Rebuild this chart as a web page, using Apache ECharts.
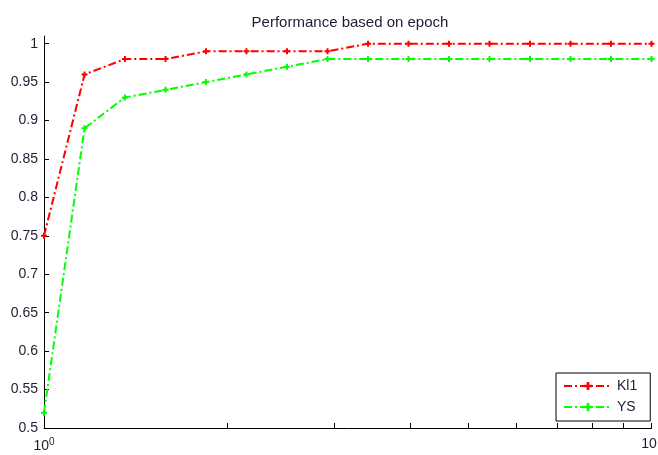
<!DOCTYPE html>
<html>
<head>
<meta charset="utf-8">
<script src="https://cdn.jsdelivr.net/npm/echarts@6/dist/echarts.min.js"></script>
<style>
html,body{margin:0;padding:0;background:#fff;}
#chart{width:658px;height:455px;}
</style>
</head>
<body>
<div id="chart"></div>
<script>
// Data
var epochs = [1, 1.166, 1.359, 1.585, 1.848, 2.154, 2.512, 2.929, 3.415, 3.981, 4.642, 5.412, 6.310, 7.356, 8.577, 10];
var kl1 = [0.75, 0.96, 0.98, 0.98, 0.99, 0.99, 0.99, 0.99, 1.00, 1.00, 1.00, 1.00, 1.00, 1.00, 1.00, 1.00];
var ys  = [0.52, 0.89, 0.93, 0.94, 0.95, 0.96, 0.97, 0.98, 0.98, 0.98, 0.98, 0.98, 0.98, 0.98, 0.98, 0.98];
var yTicks = [0.5, 0.55, 0.6, 0.65, 0.7, 0.75, 0.8, 0.85, 0.9, 0.95, 1];
var xTicks = [1, 2, 3, 4, 5, 6, 7, 8, 9, 10];
var xLabels = [1, 10];

function pairs(xs, vs) { return xs.map(function (x, i) { return [x, vs[i]]; }); }

var font = '"Liberation Sans", Arial, sans-serif';
var txt = '#1e1e34';
var plus = 'path://M-1,-3L1,-3L1,-1L3,-1L3,1L1,1L1,3L-1,3L-1,1L-3,1L-3,-1L-1,-1Z';
var dashDot = [8, 3, 2, 3];

var chart = echarts.init(document.getElementById('chart'));
chart.setOption({
  animation: false,
  backgroundColor: '#fff',
  title: {
    text: 'Performance based on epoch',
    left: 345, top: 10, textAlign: 'center',
    textStyle: { fontFamily: font, fontSize: 15, fontWeight: 'normal', color: txt }
  },
  grid: { left: 44, right: 6.5, top: 36, bottom: 27, containLabel: false, outerBoundsMode: 'none' },
  xAxis: {
    type: 'log', logBase: 10, min: 1, max: 10,
    axisLine: { show: true, lineStyle: { color: '#000', width: 1 } },
    axisTick: { show: true, inside: true, length: 5, customValues: xTicks, lineStyle: { color: '#000' } },
    splitLine: { show: false },
    minorTick: { show: false },
    axisLabel: {
      customValues: xLabels, margin: 9, color: txt, fontFamily: font, fontSize: 14,
      alignMinLabel: 'center', alignMaxLabel: 'center',
      formatter: function (v) { return v < 5 ? '{b|10}{s|0}' : '{r|10}'; },
      rich: {
        b: { fontFamily: font, fontSize: 14, color: txt, verticalAlign: 'bottom' },
        r: { fontFamily: font, fontSize: 14, color: txt, verticalAlign: 'bottom', padding: [0, 5, 0, 0] },
        s: { fontFamily: font, fontSize: 10, color: txt, verticalAlign: 'top', padding: [0, 0, 6, 0] }
      }
    }
  },
  yAxis: {
    type: 'value', min: 0.5, max: 1.01,
    axisLine: { show: true, lineStyle: { color: '#000', width: 1 } },
    axisTick: { show: true, inside: true, length: 5, customValues: yTicks, lineStyle: { color: '#000' } },
    splitLine: { show: false },
    axisLabel: {
      customValues: yTicks, margin: 6, color: txt, fontFamily: font, fontSize: 14,
      formatter: function (v) { return String(Math.round(v * 100) / 100); }
    }
  },
  legend: {
    orient: 'vertical', left: 556, top: 373,
    padding: [6, 13, 7, 7], itemGap: 7, itemWidth: 48, itemHeight: 10,
    borderColor: '#000', borderWidth: 1, backgroundColor: '#fff',
    textStyle: { fontFamily: font, fontSize: 14, color: txt, padding: [0, 0, 0, 0] },
    data: ['Kl1', 'YS']
  },
  series: [
    {
      name: 'Kl1', type: 'line', data: pairs(epochs, kl1),
      symbol: plus, symbolSize: 6, showAllSymbol: true,
      lineStyle: { color: '#ff0000', width: 2, type: dashDot },
      itemStyle: { color: '#ff0000' }
    },
    {
      name: 'YS', type: 'line', data: pairs(epochs, ys),
      symbol: plus, symbolSize: 6, showAllSymbol: true,
      lineStyle: { color: '#00ff00', width: 2, type: dashDot },
      itemStyle: { color: '#00ff00' }
    }
  ]
});
</script>
</body>
</html>
